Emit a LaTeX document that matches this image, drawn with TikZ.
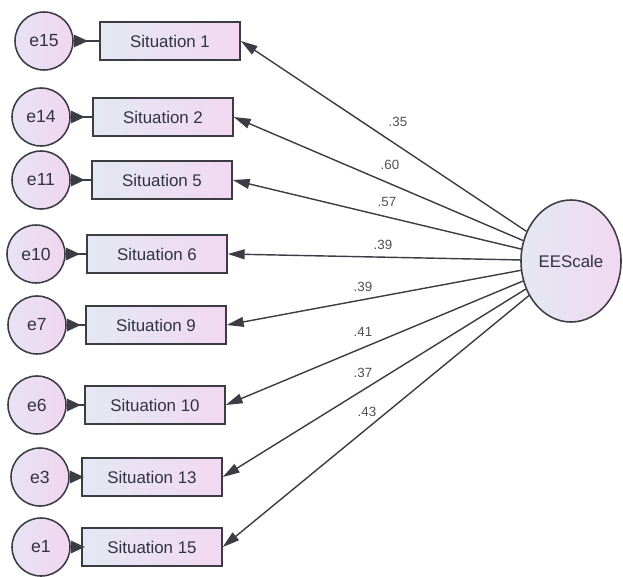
\documentclass[tikz,border=0pt]{standalone}
\usepackage{fontspec}
\setmainfont{Liberation Sans}
\usetikzlibrary{arrows.meta, shapes.geometric}

\definecolor{linegray}{RGB}{60,60,68}
\definecolor{txtgray}{RGB}{50,50,65}
\definecolor{coefgray}{RGB}{80,80,85}
\definecolor{boxleft}{RGB}{228,232,242}
\definecolor{boxright}{RGB}{242,216,242}
\definecolor{errleft}{RGB}{232,226,244}
\definecolor{errright}{RGB}{240,214,240}

\tikzset{
    item/.style={draw=linegray, line width=1.1pt, minimum width=3.5cm, minimum height=0.95cm,
        left color=boxleft, right color=boxright, text=txtgray, font=\fontsize{12}{14}\selectfont},
    err/.style={circle, draw=linegray, line width=1.1pt, minimum size=1.45cm, inner sep=0pt,
        left color=errleft, right color=errright, text=txtgray, font=\fontsize{12.5}{14}\selectfont},
    factor/.style={ellipse, draw=linegray, line width=1.1pt, minimum width=2.5cm, minimum height=3.05cm,
        inner sep=0pt, left color=boxleft, right color=boxright, text=txtgray, font=\fontsize{12}{14}\selectfont},
    load/.style={-{Triangle[length=12pt,width=7pt]}, line width=1pt, draw=linegray, fill=linegray},
    res/.style={{Triangle[length=10pt,width=9pt,reversed]}-, line width=1pt, draw=linegray, fill=linegray},
    coef/.style={font=\fontsize{9.5}{10}\selectfont, text=coefgray, inner sep=1pt}
}

\begin{document}
\begin{tikzpicture}[x=0.025cm, y=-0.025cm]
    \useasboundingbox (0,0) rectangle (623,577);

    % latent factor
    \node[factor] (ee) at (571,261) {EEScale};

    % indicators
    \node[item] (s1)  at (170,41)  {Situation 1};
    \node[item] (s2)  at (163,117) {Situation 2};
    \node[item] (s5)  at (162,180) {Situation 5};
    \node[item] (s6)  at (157,254) {Situation 6};
    \node[item] (s9)  at (156,325) {Situation 9};
    \node[item] (s10) at (155,405) {Situation 10};
    \node[item] (s13) at (152,477) {Situation 13};
    \node[item] (s15) at (152,547) {Situation 15};

    % error terms
    \node[err] (e15) at (44,41)  {e15};
    \node[err] (e14) at (41,117) {e14};
    \node[err] (e11) at (41,180) {e11};
    \node[err] (e10) at (36,254) {e10};
    \node[err] (e7)  at (37,325) {e7};
    \node[err] (e6)  at (37,405) {e6};
    \node[err] (e3)  at (40,477) {e3};
    \node[err] (e1)  at (41,547) {e1};

    % loadings
    \draw[load] (ee) -- (s1.east);
    \draw[load] (ee) -- (s2.east);
    \draw[load] (ee) -- (s5.east);
    \draw[load] (ee) -- (s6.east);
    \draw[load] (ee) -- (s9.east);
    \draw[load] (ee) -- (s10.east);
    \draw[load] (ee) -- (s13.east);
    \draw[load] (ee) -- (s15.east);

    \node[coef] (w1) at (398,122) {.35};
    \node[coef] (w2) at (390,165) {.60};
    \node[coef] (w3) at (387,202) {.57};
    \node[coef] (w4) at (383,245) {.39};
    \node[coef] (w5) at (363,287) {.39};
    \node[coef] (w6) at (363,332) {.41};
    \node[coef] (w7) at (363,373) {.37};
    \node[coef] (w8) at (367,412) {.43};

    % residual links
    \draw[res] (e15) -- (s1.west);
    \draw[res] (e14) -- (s2.west);
    \draw[res] (e11) -- (s5.west);
    \draw[res] (e10) -- (s6.west);
    \draw[res] (e7)  -- (s9.west);
    \draw[res] (e6)  -- (s10.west);
    \draw[res] (e3)  -- (s13.west);
    \draw[res] (e1)  -- (s15.west);
\end{tikzpicture}
\end{document}
